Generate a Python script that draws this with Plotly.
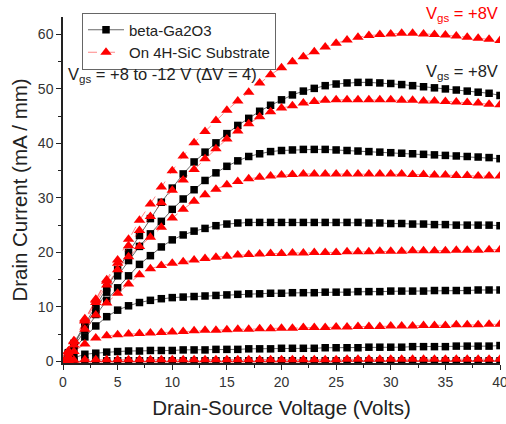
import plotly.graph_objects as go

vds = [0, 0.5] + list(range(1, 41))

# beta-Ga2O3 (black squares), Vgs = +8, +4, 0, -4, -8, -12 V
ga_p8 = [0, 1.6, 3.3, 6.8, 10.2, 13.5, 16.8, 20.0, 23.1, 26.2, 29.2, 31.8, 34.4, 36.6, 38.4, 40.1, 41.8, 43.3, 44.6, 45.9, 47.0, 48.0, 48.9, 49.6, 50.1, 50.6, 50.9, 51.1, 51.2, 51.2, 51.1, 51.0, 50.8, 50.6, 50.4, 50.2, 50.0, 49.8, 49.6, 49.4, 49.2, 48.8]
ga_p4 = [0, 1.5, 3.1, 6.4, 9.6, 12.7, 15.7, 18.5, 21.1, 23.4, 25.7, 27.9, 29.8, 31.5, 33.2, 34.6, 35.8, 36.8, 37.6, 38.1, 38.5, 38.7, 38.8, 38.9, 38.9, 38.9, 38.8, 38.7, 38.6, 38.5, 38.4, 38.3, 38.2, 38.1, 38.0, 37.9, 37.8, 37.7, 37.6, 37.5, 37.4, 37.2]
ga_0 = [0, 1.4, 2.9, 5.8, 8.6, 11.2, 13.5, 15.7, 17.8, 19.4, 21.0, 22.3, 23.2, 23.9, 24.4, 24.9, 25.2, 25.4, 25.5, 25.5, 25.5, 25.5, 25.5, 25.5, 25.5, 25.5, 25.5, 25.5, 25.5, 25.4, 25.4, 25.3, 25.3, 25.2, 25.2, 25.1, 25.1, 25.0, 25.0, 25.0, 25.0, 24.9]
ga_m4 = [0, 1.2, 2.3, 4.5, 6.5, 8.2, 9.4, 10.2, 10.8, 11.2, 11.5, 11.7, 11.8, 11.9, 12.0, 12.1, 12.2, 12.3, 12.4, 12.4, 12.5, 12.5, 12.6, 12.6, 12.6, 12.7, 12.7, 12.7, 12.8, 12.8, 12.8, 12.9, 12.9, 12.9, 12.9, 13.0, 13.0, 13.0, 13.0, 13.1, 13.1, 13.1]
ga_m8 = [0, 0.3, 0.7, 1.3, 1.5, 1.7, 1.8, 1.9, 1.9, 2.0, 2.0, 2.0, 2.1, 2.1, 2.1, 2.2, 2.2, 2.2, 2.3, 2.3, 2.3, 2.4, 2.4, 2.4, 2.4, 2.5, 2.5, 2.5, 2.5, 2.6, 2.6, 2.6, 2.6, 2.7, 2.7, 2.7, 2.7, 2.8, 2.8, 2.8, 2.8, 2.9]
ga_m12 = [0, 0.0, 0.05, 0.1, 0.1, 0.1, 0.1, 0.1, 0.1, 0.1, 0.1, 0.1, 0.1, 0.1, 0.1, 0.1, 0.1, 0.1, 0.1, 0.1, 0.1, 0.1, 0.1, 0.1, 0.1, 0.1, 0.1, 0.1, 0.1, 0.1, 0.1, 0.1, 0.1, 0.1, 0.1, 0.1, 0.1, 0.1, 0.1, 0.1, 0.1, 0.1]

# On 4H-SiC substrate (red triangles)
sic_p8 = [0, 1.9, 3.8, 7.8, 11.4, 15.0, 18.6, 22.4, 25.9, 28.9, 32.0, 35.0, 37.7, 40.1, 42.2, 44.2, 46.1, 47.8, 49.4, 51.1, 52.6, 53.9, 55.0, 55.9, 56.8, 57.7, 58.4, 59.0, 59.5, 59.8, 60.0, 60.1, 60.2, 60.2, 60.1, 60.0, 59.9, 59.7, 59.5, 59.3, 59.1, 58.9]
sic_p4 = [0, 1.8, 3.7, 7.6, 11.2, 14.7, 18.0, 21.2, 24.0, 26.6, 29.1, 31.4, 33.3, 35.2, 37.2, 39.0, 40.8, 42.3, 43.6, 44.9, 45.8, 46.5, 46.9, 47.4, 47.7, 47.9, 48.0, 48.0, 48.0, 48.0, 48.0, 48.0, 47.9, 47.9, 47.8, 47.8, 47.7, 47.6, 47.5, 47.4, 47.2, 47.1]
sic_0 = [0, 1.8, 3.6, 7.4, 10.8, 14.0, 16.8, 19.2, 21.1, 22.8, 24.6, 26.3, 27.9, 29.4, 30.6, 31.6, 32.4, 33.0, 33.5, 33.8, 34.0, 34.2, 34.3, 34.4, 34.4, 34.4, 34.4, 34.4, 34.4, 34.4, 34.4, 34.4, 34.4, 34.3, 34.3, 34.2, 34.2, 34.1, 34.1, 34.0, 34.0, 34.0]
sic_m4 = [0, 1.5, 3.0, 5.9, 8.5, 10.7, 12.5, 14.2, 15.9, 17.0, 17.6, 18.0, 18.3, 18.6, 18.9, 19.1, 19.3, 19.5, 19.6, 19.7, 19.8, 19.8, 19.9, 19.9, 20.0, 20.0, 20.0, 20.1, 20.1, 20.1, 20.2, 20.2, 20.2, 20.3, 20.3, 20.3, 20.3, 20.4, 20.4, 20.4, 20.5, 20.5]
sic_m8 = [0, 0.9, 1.8, 3.2, 4.3, 4.7, 4.9, 5.0, 5.1, 5.2, 5.3, 5.4, 5.5, 5.6, 5.7, 5.7, 5.8, 5.9, 5.9, 6.0, 6.0, 6.1, 6.1, 6.2, 6.2, 6.2, 6.3, 6.3, 6.4, 6.4, 6.4, 6.5, 6.5, 6.5, 6.6, 6.6, 6.6, 6.7, 6.7, 6.7, 6.8, 6.8]
sic_m12 = [0, 0.1, 0.2, 0.3, 0.3, 0.3, 0.3, 0.3, 0.3, 0.3, 0.3, 0.3, 0.3, 0.3, 0.3, 0.3, 0.3, 0.3, 0.3, 0.3, 0.3, 0.3, 0.3, 0.3, 0.3, 0.3, 0.3, 0.4, 0.4, 0.4, 0.4, 0.4, 0.4, 0.4, 0.4, 0.4, 0.4, 0.4, 0.4, 0.4, 0.4, 0.4]

ga_curves = [ga_p8, ga_p4, ga_0, ga_m4, ga_m8, ga_m12]
sic_curves = [sic_p8, sic_p4, sic_0, sic_m4, sic_m8, sic_m12]

ga_name = "beta-Ga2O3"
sic_name = "On 4H-SiC Substrate"
x_ticks = [0, 5, 10, 15, 20, 25, 30, 35, 40]
y_ticks = [0, 10, 20, 30, 40, 50, 60]

FONT = "Liberation Sans, Arial, sans-serif"

fig = go.Figure()
for i, ys in enumerate(ga_curves):
    fig.add_trace(go.Scatter(
        x=vds, y=ys, mode="lines+markers", name=ga_name,
        legendgroup="ga", showlegend=(i == 0),
        line=dict(color="rgba(0,0,0,0.75)", width=0.8),
        marker=dict(symbol="square", size=7.5, color="black"),
    ))
for i, ys in enumerate(sic_curves):
    fig.add_trace(go.Scatter(
        x=vds, y=ys, mode="lines+markers", name=sic_name,
        legendgroup="sic", showlegend=(i == 0),
        line=dict(color="rgba(255,0,0,0.6)", width=0.8, dash="dash"),
        marker=dict(symbol="triangle-up", size=10, color="#ff0000"),
    ))

axis_common = dict(
    showline=True, linecolor="#222", linewidth=1.5, mirror=False,
    showgrid=False, zeroline=False, automargin=False,
    ticks="outside", ticklen=5, tickwidth=1.2, tickcolor="#222",
    tickfont=dict(family=FONT, size=14, color="#333"),
    ticklabeloverflow="allow",
)

fig.update_layout(
    width=506, height=424,
    margin=dict(l=63, r=6, t=17, b=61, autoexpand=False),
    paper_bgcolor="white", plot_bgcolor="white",
    font=dict(family=FONT, color="#222"),
    xaxis=dict(
        range=[0, 40], tickvals=x_ticks,
        minor=dict(tickvals=[2.5 + 5 * k for k in range(8)], ticks="outside", ticklen=3, tickcolor="#222"),
        title=dict(text="Drain-Source Voltage (Volts)", font=dict(family=FONT, size=20.5, color="#222"), standoff=12),
        **axis_common,
    ),
    yaxis=dict(
        range=[-0.3, 63.2], tickvals=y_ticks,
        minor=dict(tickvals=[5 + 10 * k for k in range(7)], ticks="outside", ticklen=3, tickcolor="#222"),
        title=dict(text="Drain Current (mA / mm)", font=dict(family=FONT, size=20.5, color="#222"), standoff=5),
        **axis_common,
    ),
    legend=dict(
        x=0.0435, y=1.013, xanchor="left", yanchor="top",
        bgcolor="white", bordercolor="#666", borderwidth=1,
        font=dict(family=FONT, size=15, color="#222"),
        itemwidth=36, tracegroupgap=0,
    ),
    annotations=[
        dict(text="V<sub>gs</sub> = +8 to -12 V (ΔV = 4)", xref="paper", yref="paper",
             x=0.007, y=(362.6 - 75) / 346, xanchor="left", yanchor="middle", showarrow=False,
             font=dict(family=FONT, size=16.5, color="#222")),
        dict(text="V<sub>gs</sub> = +8V", xref="paper", yref="paper",
             x=1.0, y=(362.6 - 14) / 346, xanchor="right", yanchor="middle", showarrow=False,
             font=dict(family=FONT, size=16.5, color="#ff0000")),
        dict(text="V<sub>gs</sub> = +8V", xref="paper", yref="paper",
             x=1.0, y=(362.6 - 72) / 346, xanchor="right", yanchor="middle", showarrow=False,
             font=dict(family=FONT, size=16.5, color="#222")),
    ],
)

fig.write_html("out.html")
